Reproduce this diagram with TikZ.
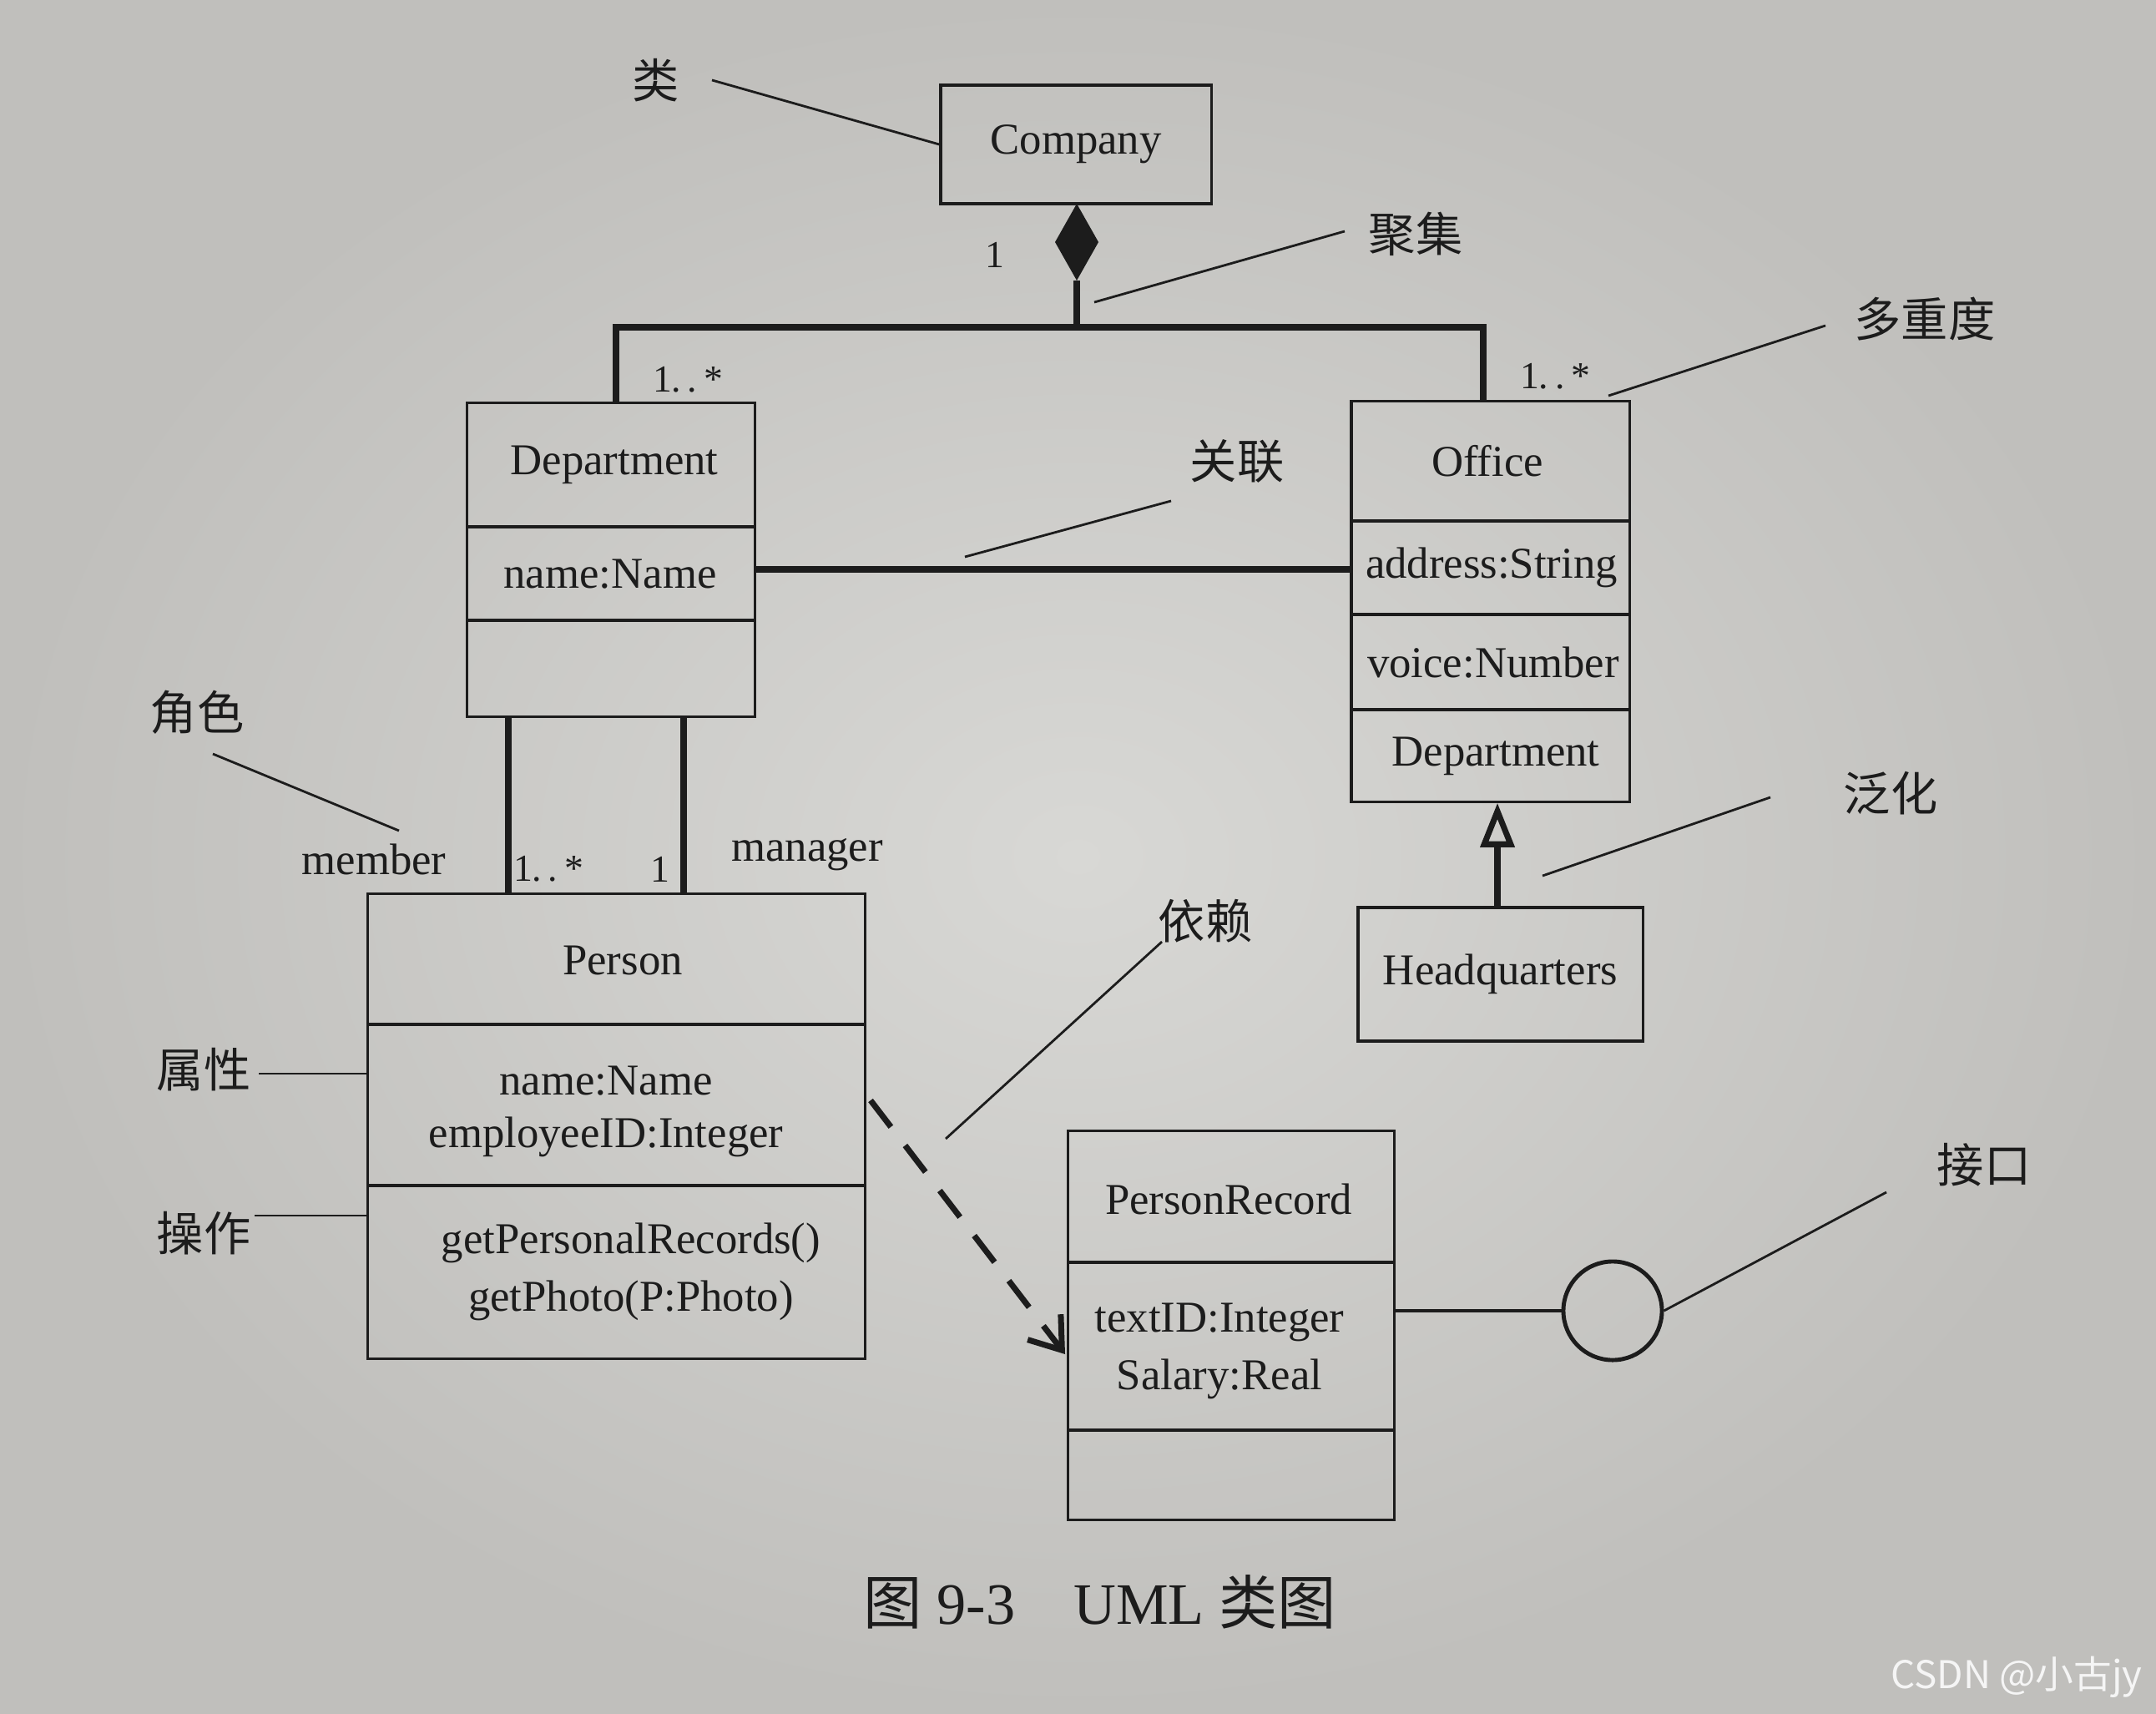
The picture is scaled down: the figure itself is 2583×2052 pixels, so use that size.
\documentclass[tikz,border=0pt]{standalone}
\usepackage{fontspec}
\setmainfont{Liberation Serif}
\newfontfamily\cjk{Noto Sans CJK SC}
\usetikzlibrary{arrows.meta,shapes.geometric}
\definecolor{paper}{RGB}{216,216,213}
\definecolor{paperdark}{RGB}{192,191,188}
\definecolor{ink}{RGB}{28,28,28}
\begin{document}
\begin{tikzpicture}[x=0.01cm,y=-0.01cm,
 umlbox/.style={draw=ink,line width=0.9pt,rectangle,inner sep=0pt,font=\fontsize{15}{18}\selectfont,text=ink},
 divider/.style={draw=ink,line width=0.9pt},
 txt/.style={font=\fontsize{15}{18}\selectfont,text=ink,inner sep=0pt},
 mult/.style={font=\fontsize{13}{15}\selectfont,text=ink,inner sep=0pt},
 cn/.style={font=\cjk\fontsize{16}{19}\selectfont,text=ink,inner sep=0pt},
 conn/.style={draw=ink,line width=2.2pt},
 leader/.style={draw=ink,line width=0.8pt},
]
\useasboundingbox (0,0) rectangle (2583,2052);
\shade[inner color=paper, outer color=paperdark] (0,0) rectangle (2583,2052);

% ---------- classes ----------
\node[umlbox,minimum width=3.24cm,minimum height=1.42cm] (company) at (1289,173) {Company};

\node[umlbox,minimum width=3.44cm,minimum height=3.75cm] (dept) at (732,670.5) {};
\draw[divider] (560,631) -- (904,631);
\draw[divider] (560,743) -- (904,743);
\node[txt] (deptname) at (736,557) {Department};
\node[txt] (deptattr) at (731,688) {name:Name};

\node[umlbox,minimum width=3.33cm,minimum height=4.79cm] (office) at (1785.5,720.5) {};
\draw[divider] (1619,624) -- (1952,624);
\draw[divider] (1619,736) -- (1952,736);
\draw[divider] (1619,850) -- (1952,850);
\node[txt] (officename) at (1782,552) {Office};
\node[txt] (officeaddr) at (1787,680) {address:String};
\node[txt] (officevoice) at (1789,794) {voice:Number};
\node[txt] (officedept) at (1792,906) {Department};

\node[umlbox,minimum width=3.41cm,minimum height=1.60cm] (hq) at (1797.5,1167) {Headquarters};

\node[umlbox,minimum width=5.95cm,minimum height=5.56cm] (person) at (738.5,1349) {};
\draw[divider] (441,1227) -- (1036,1227);
\draw[divider] (441,1420) -- (1036,1420);
\node[txt] (personname) at (746,1150) {Person};
\node[txt] (pattr1) at (726,1295) {name:Name};
\node[txt] (pattr2) at (726,1362) {employeeID:Integer};
\node[txt] (pop1) at (756,1489) {getPersonalRecords()};
\node[txt] (pop2) at (756,1558) {getPhoto(P:Photo)};

\node[umlbox,minimum width=3.90cm,minimum height=4.65cm] (prec) at (1475,1587.5) {};
\draw[divider] (1280,1512) -- (1670,1512);
\draw[divider] (1280,1713) -- (1670,1713);
\node[txt] (precname) at (1472,1436) {PersonRecord};
\node[txt] (precattr1) at (1461,1584) {textID:Integer};
\node[txt] (precattr2) at (1461,1652) {Salary:Real};

% ---------- aggregation ----------
\fill[ink] (1290,244) -- (1316,290) -- (1290,336) -- (1264,290) -- cycle;
\coordinate (aggbot) at (1290,336);
\coordinate (junc) at (1290,392);
\coordinate (dL) at (738,392);
\coordinate (oR) at (1777,392);
\draw[conn] (aggbot) -- (junc);
\draw[conn] (dept.north -| dL) -- (dL) -- (oR) -- (office.north -| oR);
\node[mult] (m1) at (1192,305) {1};
\node[mult] (m2) at (824,455) {1.\,.\,*};
\node[mult] (m3) at (1863,451) {1.\,.\,*};

% ---------- association ----------
\coordinate (assoc) at (1200,682);
\draw[conn] (dept.east |- assoc) -- (office.west |- assoc);

% ---------- department - person ----------
\coordinate (memx) at (609,900);
\coordinate (manx) at (819,900);
\draw[conn] (dept.south -| memx) -- (person.north -| memx);
\draw[conn] (dept.south -| manx) -- (person.north -| manx);
\node[txt] (member) at (448,1029) {member};
\node[mult] (m4) at (657,1041) {1.\,.\,*};
\node[mult] (m5) at (791,1041) {1};
\node[txt] (manager) at (967,1024) {manager};

% ---------- generalization ----------
\coordinate (genx) at (1794,1000);
\draw[conn,-{Triangle[open,length=0.53cm,width=0.4cm,line width=2pt]}] (hq.north -| genx) -- (office.south -| genx);

% ---------- dependency ----------
\coordinate (depstart) at (1043,1318);
\coordinate (depend) at (1276,1622);
\draw[draw=ink,line width=2pt,dash pattern=on 0.4cm off 0.28cm,-{Straight Barb[length=0.35cm,width=0.5cm,line width=2pt]}] (depstart) -- (depend);

% ---------- interface ----------
\node[circle,draw=ink,line width=1.4pt,minimum size=1.18cm,inner sep=0pt] (iface) at (1932,1570) {};
\draw[draw=ink,line width=1.2pt] (prec.east |- iface) -- (iface.west);

% ---------- annotation labels ----------
\node[cn] (lLei) at (786,96) {类};
\node[cn] (lJuji) at (1696,280) {聚集};
\node[cn] (lDuo) at (2306,382) {多重度};
\node[cn] (lGuan) at (1482,552) {关联};
\node[cn] (lFan) at (2265,950) {泛化};
\node[cn] (lJue) at (236,853) {角色};
\node[cn] (lShu) at (244,1281) {属性};
\node[cn] (lCao) at (244,1477) {操作};
\node[cn] (lYi) at (1444,1103) {依赖};
\node[cn] (lJie) at (2377,1395) {接口};

\coordinate (aLei) at (853,96);      \draw[leader] (aLei) -- (company.west);
\coordinate (aJuji) at (1611,277);   \coordinate (bJuji) at (1311,362);  \draw[leader] (aJuji) -- (bJuji);
\coordinate (aDuo) at (2187,390);    \coordinate (bDuo) at (1927,474);   \draw[leader] (aDuo) -- (bDuo);
\coordinate (aGuan) at (1403,600);   \coordinate (bGuan) at (1156,667);  \draw[leader] (aGuan) -- (bGuan);
\coordinate (aFan) at (2121,955);    \coordinate (bFan) at (1848,1049);  \draw[leader] (aFan) -- (bFan);
\coordinate (aJue) at (255,903);     \coordinate (bJue) at (478,995);    \draw[leader] (aJue) -- (bJue);
\coordinate (aShu) at (310,1286);    \draw[leader] (aShu) -- (person.west |- aShu);
\coordinate (aCao) at (305,1456);    \draw[leader] (aCao) -- (person.west |- aCao);
\coordinate (aYi) at (1392,1128);    \coordinate (bYi) at (1133,1364);   \draw[leader] (aYi) -- (bYi);
\coordinate (aJie) at (2260,1428);   \draw[leader] (aJie) -- (iface.east);

% ---------- caption & watermark ----------
\node[text=ink,inner sep=0pt,font=\fontsize{20}{24}\selectfont] (caption) at (1318,1919) {{\cjk 图} 9-3\quad UML {\cjk 类图}};
\node[text=white!92!gray,inner sep=0pt,font=\cjk\fontsize{13}{15}\selectfont] (wm) at (2416,2009) {CSDN @小古jy};
\end{tikzpicture}
\end{document}
